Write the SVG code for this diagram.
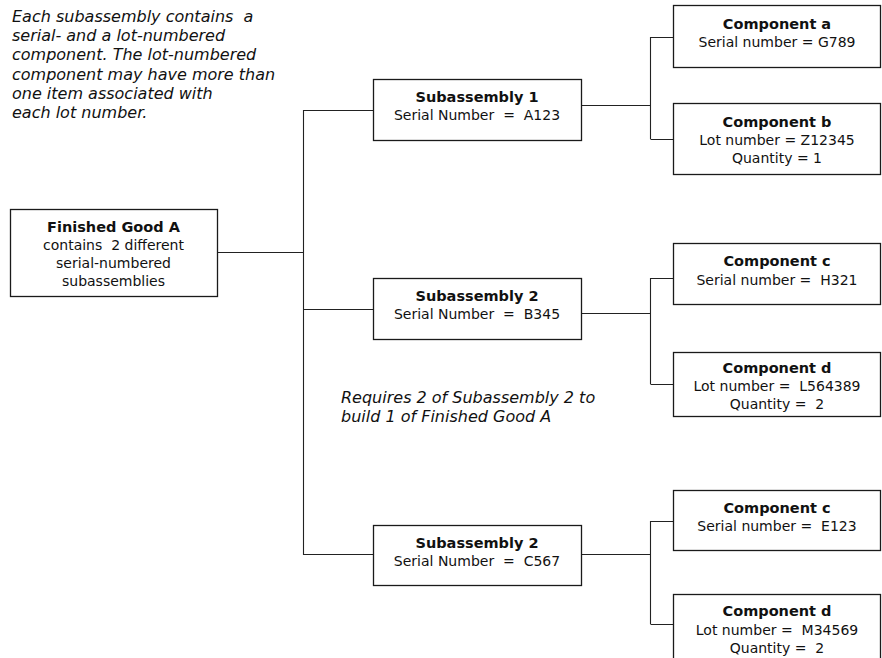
<svg xmlns="http://www.w3.org/2000/svg" width="882" height="658" viewBox="0 0 882 658">
<style>
text{white-space:pre}
.box{fill:#fff;stroke:#1a1a1a;stroke-width:1.3}
.t{font-family:"DejaVu Sans",sans-serif;font-size:14px;fill:#111;text-anchor:middle}
.b{font-weight:bold;font-size:14.5px}
.note{font-family:"DejaVu Sans",sans-serif;font-size:16px;font-style:italic;fill:#111}
#connectors path{fill:none;stroke:#222;stroke-width:1.1}
</style>
<rect width="882" height="658" fill="#fff"/>
<g id="connectors">
<path d="M217 252.5H303.5M303.5 110V555M303.5 110.5H373M303.5 309.5H373M303.5 554.5H373"/>
<path d="M581 105.5H650.5M650.5 37V139M650.5 37.5H673M650.5 139.5H673"/>
<path d="M581 313.5H650.5M650.5 278V384M650.5 278.5H673M650.5 384.5H673"/>
<path d="M581 554.5H650.5M650.5 521V624M650.5 521.5H673M650.5 624.5H673"/>
</g>
<g id="note1">
<text class="note" x="12" y="22" xml:space="preserve">Each subassembly contains  a</text>
<text class="note" x="12" y="41.2">serial- and a lot-numbered</text>
<text class="note" x="12" y="60.4">component. The lot-numbered</text>
<text class="note" x="12" y="79.6">component may have more than</text>
<text class="note" x="12" y="98.8">one item associated with</text>
<text class="note" x="12" y="118">each lot number.</text>
</g>
<g id="note2">
<text class="note" x="341" y="403">Requires 2 of Subassembly 2 to</text>
<text class="note" x="341" y="422">build 1 of Finished Good A</text>
</g>
<g id="finishedGoodA">
<rect class="box" x="10.5" y="209.5" width="207" height="87"/>
<text class="t b" x="113.5" y="232">Finished Good A</text>
<text class="t" x="113.5" y="250" xml:space="preserve">contains  2 different</text>
<text class="t" x="113.5" y="268">serial-numbered</text>
<text class="t" x="113.5" y="286">subassemblies</text>
</g>
<g id="sub1">
<rect class="box" x="373.5" y="79.5" width="208" height="61"/>
<text class="t b" x="477" y="101.5">Subassembly 1</text>
<text class="t" x="477" y="119.5" xml:space="preserve">Serial Number  =  A123</text>
</g>
<g id="sub2a">
<rect class="box" x="373.5" y="278.5" width="208" height="61"/>
<text class="t b" x="477" y="300.5">Subassembly 2</text>
<text class="t" x="477" y="318.5" xml:space="preserve">Serial Number  =  B345</text>
</g>
<g id="sub2b">
<rect class="box" x="373.5" y="525.5" width="208" height="60"/>
<text class="t b" x="477" y="547.5">Subassembly 2</text>
<text class="t" x="477" y="565.5" xml:space="preserve">Serial Number  =  C567</text>
</g>
<g id="compA">
<rect class="box" x="673.5" y="5.5" width="207" height="62"/>
<text class="t b" x="777" y="29">Component a</text>
<text class="t" x="777" y="47">Serial number = G789</text>
</g>
<g id="compB">
<rect class="box" x="673.5" y="103.5" width="207" height="71"/>
<text class="t b" x="777" y="126.5">Component b</text>
<text class="t" x="777" y="145">Lot number = Z12345</text>
<text class="t" x="777" y="163">Quantity = 1</text>
</g>
<g id="compC1">
<rect class="box" x="673.5" y="243.5" width="207" height="61"/>
<text class="t b" x="777" y="266">Component c</text>
<text class="t" x="777" y="285" xml:space="preserve">Serial number =  H321</text>
</g>
<g id="compD1">
<rect class="box" x="673.5" y="352.5" width="207" height="64"/>
<text class="t b" x="777" y="373">Component d</text>
<text class="t" x="777" y="391" xml:space="preserve">Lot number =  L564389</text>
<text class="t" x="777" y="409" xml:space="preserve">Quantity =  2</text>
</g>
<g id="compC2">
<rect class="box" x="673.5" y="490.5" width="207" height="60"/>
<text class="t b" x="777" y="513">Component c</text>
<text class="t" x="777" y="531" xml:space="preserve">Serial number =  E123</text>
</g>
<g id="compD2">
<rect class="box" x="673.5" y="594.5" width="207" height="70"/>
<text class="t b" x="777" y="616">Component d</text>
<text class="t" x="777" y="635" xml:space="preserve">Lot number =  M34569</text>
<text class="t" x="777" y="653" xml:space="preserve">Quantity =  2</text>
</g>
</svg>
